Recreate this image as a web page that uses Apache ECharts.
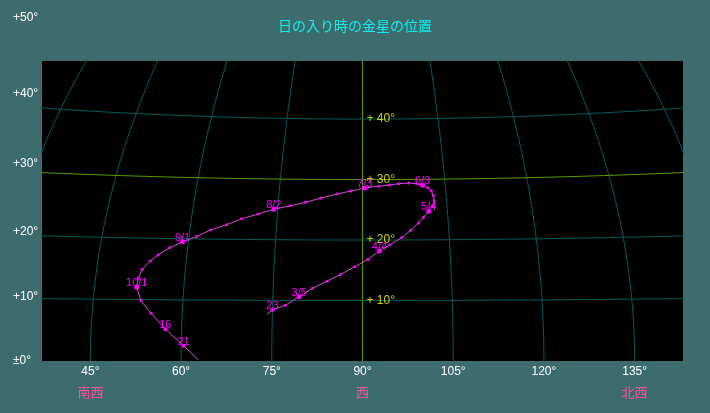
<!DOCTYPE html>
<html>
<head>
<meta charset="utf-8">
<title>日の入り時の金星の位置</title>
<script src="https://cdn.jsdelivr.net/npm/echarts@6/dist/echarts.min.js"></script>
<style>
  html, body { margin: 0; padding: 0; }
  #chart { width: 710px; height: 413px; }
</style>
</head>
<body>
<div id="chart"></div>
<script>
// 日の入り時の金星の位置（方位：南から西回り、高度）
var dates = ['2/21', '2/23', '2/28', '3/5', '3/10', '3/15', '3/20', '3/25', '3/30',
             '4/4', '4/9', '4/14', '4/19', '4/24', '4/29', '5/4', '5/9', '5/14', '5/19', '5/24', '5/29',
             '6/3', '6/8', '6/13', '6/18', '6/23', '6/28', '7/3', '7/8', '7/13', '7/18', '7/23', '7/28',
             '8/2', '8/7', '8/12', '8/17', '8/22', '8/27', '9/1', '9/6', '9/11', '9/16', '9/21', '9/26',
             '10/1', '10/6', '10/11', '10/16', '10/21', '10/25'];
var venusAz  = [74.1, 75.0, 77.1, 79.4, 81.6, 84.0, 86.3, 88.7, 90.9,
                92.9, 94.7, 96.8, 98.4, 99.8, 100.7, 101.7, 102.4, 102.8, 102.7, 102.4, 101.8,
                100.9, 99.8, 98.4, 96.6, 94.9, 93.0, 90.4, 87.9, 85.4, 82.5, 79.8, 77.1,
                74.3, 71.6, 68.8, 66.3, 63.6, 61.3, 59.0, 56.9, 55.1, 53.9, 52.7, 52.2,
                52.1, 53.0, 54.8, 57.3, 60.4, 62.8];
var venusAlt = [7.7, 8.4, 9.2, 10.6, 12.0, 13.2, 14.3, 15.6, 16.8,
                18.2, 19.2, 20.4, 21.6, 22.8, 23.7, 24.7, 25.6, 26.5, 27.3, 28.1, 28.6,
                29.0, 29.3, 29.4, 29.3, 29.1, 28.9, 28.6, 28.1, 27.6, 26.9, 26.2, 25.6,
                25.0, 24.2, 23.4, 22.4, 21.5, 20.4, 19.5, 18.5, 17.3, 16.3, 14.9, 13.5,
                12.0, 9.8, 7.8, 5.2, 2.5, 0.2];

// 日付ラベル
var labeledDates = ['2/23', '3/5', '4/4', '5/4', '6/3', '7/3', '8/2', '9/1', '10/1', '10/16', '10/21'];
var labelTexts   = ['23',   '3/5', '4/4', '5/4', '6/3', '7/3', '8/2', '9/1', '10/1', '16',    '21'];

// 目盛
var gridAz   = [30, 45, 60, 75, 90, 105, 120, 135, 150];
var gridAlt  = [10, 20, 30, 40];
var azLabels = [45, 60, 75, 90, 105, 120, 135];
var dirAz    = [45, 90, 135];
var dirNames = ['南西', '西', '北西'];
var leftAlt  = [0, 10, 20, 30, 40, 50];
var innerAlt = [10, 20, 30, 40];

// 投影：西(90°)を中心に、高度が上がるほど方位線がすぼまる
function proj(az, alt) {
    var d = az - 90;
    var k = 1 - 1.05e-4 * alt * alt;
    return [90 + d * k, alt * (1 + 1.124e-5 * d * d)];
}

var DEG = Math.PI / 180;

var series = [];

// 方位線
gridAz.forEach(function(az) {
    var pts = [];
    for (var a = 0; a <= 60; a++) pts.push(proj(az, a));
    series.push({
        type: 'line', data: pts, showSymbol: false, silent: true, z: 1,
        lineStyle: { width: 1, color: az === 90 ? '#5aa000' : '#005e5e' }
    });
});

// 高度線
gridAlt.forEach(function(alt) {
    var pts = [];
    for (var z = 20; z <= 160; z++) pts.push(proj(z, alt));
    series.push({
        type: 'line', data: pts, showSymbol: false, silent: true, z: 1,
        lineStyle: { width: 1, color: alt === 30 ? '#5aa000' : '#005e5e' }
    });
});

// 中央の高度ラベル
series.push({
    type: 'scatter', silent: true, z: 2,
    symbolSize: 0,
    data: innerAlt.map(function(a) { return proj(90, a); }),
    label: {
        show: true, position: 'right', distance: 4,
        color: '#ffff00', fontSize: 12, fontFamily: 'Liberation Sans',
        formatter: function(p) { return '+ ' + Math.round(p.value[1]) + '°'; }
    }
});

// 金星の軌跡
var venusPts = dates.map(function(d, i) { return proj(venusAz[i], venusAlt[i]); });
function labelOf(i) {
    var j = labeledDates.indexOf(dates[i]);
    return j < 0 ? '' : labelTexts[j];
}
series.push({
    type: 'line', data: venusPts, z: 3, silent: true,
    symbol: 'circle',
    symbolSize: function(v, p) {
        var i = p.dataIndex;
        if (i === 0 || i === dates.length - 1) return 0;
        var t = labelOf(i);
        if (t.indexOf('/') >= 0) return 5;
        return t ? 4 : 3;
    },
    showAllSymbol: true,
    lineStyle: { width: 1, color: '#d050d0' },
    itemStyle: { color: '#ff00ff' },
    label: {
        show: true, position: 'inside', offset: [0, -4],
        color: '#ff00ff', fontSize: 11, fontFamily: 'Liberation Sans',
        formatter: function(p) { return labelOf(p.dataIndex); }
    }
});

var chart = echarts.init(document.getElementById('chart'));
chart.setOption({
    animation: false,
    backgroundColor: '#3d6c6e',
    title: {
        text: '日の入り時の金星の位置',
        left: 'center', top: 14,
        textStyle: { color: '#10eeee', fontSize: 14, fontWeight: 'normal', fontFamily: 'Noto Sans CJK JP' }
    },
    grid: [
        { left: 42, right: 27, top: 61, bottom: 52, show: true, backgroundColor: '#000', borderWidth: 0 },
        { left: 42, right: 27, top: 18, bottom: 52 }
    ],
    xAxis: [
        {
            type: 'value', gridIndex: 0, min: 37, max: 143,
            axisLine: { show: false }, axisTick: { show: false }, splitLine: { show: false },
            axisLabel: {
                customValues: azLabels, margin: 5,
                color: '#ffffff', fontSize: 12, fontFamily: 'Liberation Sans',
                formatter: function(v) { return v + '°'; }
            }
        },
        {
            type: 'value', gridIndex: 0, min: 37, max: 143, position: 'bottom',
            axisLine: { show: false }, axisTick: { show: false }, splitLine: { show: false },
            axisLabel: {
                customValues: dirAz, margin: 25,
                color: '#ff4f9f', fontSize: 13, fontFamily: 'Noto Sans CJK JP',
                formatter: function(v) { return dirNames[dirAz.indexOf(v)]; }
            }
        },
        { type: 'value', gridIndex: 1, min: 0, max: 1, show: false }
    ],
    yAxis: [
        { type: 'value', gridIndex: 0, min: 0, max: 49.6, show: false },
        {
            type: 'value', gridIndex: 1, min: 0, max: Math.tan(25 * DEG),
            axisLine: { show: false }, axisTick: { show: false }, splitLine: { show: false },
            axisLabel: {
                customValues: leftAlt.map(function(a) { return Math.tan(a / 2 * DEG); }),
                align: 'left', margin: 29,
                color: '#ffffff', fontSize: 12, fontFamily: 'Liberation Sans',
                formatter: function(v) {
                    var a = Math.round(2 * Math.atan(v) / DEG);
                    return a === 0 ? '±0°' : '+' + a + '°';
                }
            }
        }
    ],
    series: series
});
</script>
</body>
</html>
